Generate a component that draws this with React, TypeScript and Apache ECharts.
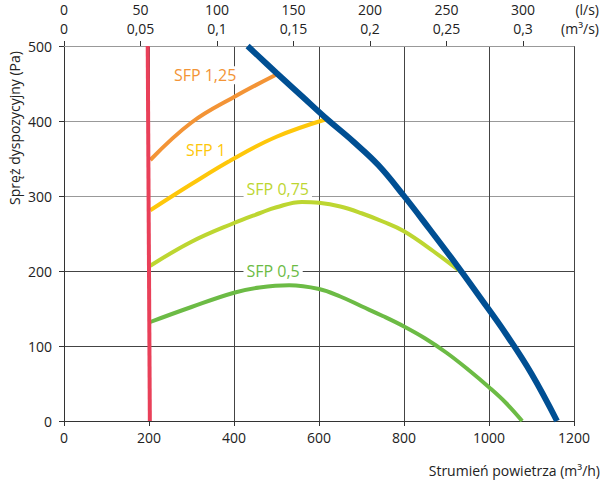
import React, { useEffect, useRef } from 'react';
import * as echarts from 'echarts';

const FONT = '"Open Sans", "Noto Sans", sans-serif';

// Airflow in m³/h, available pressure in Pa
const minFlowLine: [number, number][] = [[202, 0], [197, 500]];
const fanCurve: [number, number][] = [
  [432, 500], [500, 464], [560, 433], [620, 402], [680, 373], [740, 341],
  [800, 300], [860, 256], [920, 211], [980, 164], [1040, 116], [1100, 63], [1160, 0],
];
const sfp125: [number, number][] = [
  [203, 348], [300, 398], [400, 432], [500, 462],
];
const sfp1: [number, number][] = [
  [203, 281], [300, 316], [400, 350], [500, 379], [615, 402],
];
const sfp075: [number, number][] = [
  [203, 207], [300, 239], [400, 264], [460, 277], [500, 285], [560, 292],
  [600, 291], [650, 286], [700, 277], [750, 266], [800, 253], [870, 226], [940, 196],
];
const sfp05: [number, number][] = [
  [203, 132], [300, 152], [400, 171], [460, 178], [530, 181], [600, 176],
  [650, 166], [700, 153], [750, 140], [800, 126], [850, 110], [900, 91],
  [950, 69], [1000, 45], [1040, 24], [1078, 0],
];

const topTicksLs = [0, 50, 100, 150, 200, 250, 300];

const sfpLabel = (text: string, coord: [number, number], color: string) => ({
  markPoint: {
    symbol: 'circle',
    symbolSize: 0,
    silent: true,
    data: [{ coord }],
    label: {
      show: true,
      position: 'inside',
      formatter: text,
      color,
      fontFamily: FONT,
      fontSize: 16,
      backgroundColor: '#fff',
      padding: [1, 3],
    },
  },
});

const curve = (name: string, data: [number, number][], color: string, width: number, extra: object = {}) => ({
  name,
  type: 'line',
  data,
  smooth: 0.4,
  showSymbol: false,
  symbol: 'none',
  lineStyle: { color, width, cap: 'butt' },
  z: 3,
  ...extra,
});

export default function App() {
  const ref = useRef<HTMLDivElement>(null);

  useEffect(() => {
    const chart = echarts.init(ref.current!, null, { renderer: 'svg' });
    chart.setOption({
      animation: false,
      backgroundColor: '#fff',
      grid: { left: 64, right: 27, top: 46, bottom: 59 },
      xAxis: [
        {
          type: 'value',
          position: 'bottom',
          min: 0,
          max: 1200,
          interval: 200,
          axisLine: { lineStyle: { color: '#333', width: 1 } },
          axisTick: { show: true, length: 5, lineStyle: { color: '#333' } },
          axisLabel: {
            color: '#222',
            fontSize: 14,
            fontFamily: FONT,
            margin: 9,
            formatter: (v: number) => String(v),
          },
          splitLine: { show: true, lineStyle: { color: '#444', width: 1 } },
        },
        {
          type: 'value',
          position: 'top',
          min: 0,
          max: 1200 / 3.6,
          axisLine: { show: true, lineStyle: { color: '#999', width: 1 } },
          axisTick: { show: true, length: 5, customValues: topTicksLs, lineStyle: { color: '#333' } },
          axisLabel: {
            customValues: topTicksLs,
            color: '#222',
            fontSize: 14,
            fontFamily: FONT,
            lineHeight: 19,
            margin: 8,
            formatter: (v: number) => `${v}\n${String(v / 1000).replace('.', ',')}`,
          },
          splitLine: { show: false },
        },
      ],
      yAxis: {
        type: 'value',
        min: 0,
        max: 500,
        interval: 100,
        axisLine: { show: true, lineStyle: { color: '#333', width: 1 } },
        axisTick: { show: true, length: 5, lineStyle: { color: '#333' } },
        axisLabel: { color: '#222', fontSize: 14, fontFamily: FONT, margin: 12 },
        splitLine: {
          show: true,
          lineStyle: { color: ['#444', '#444', '#444', '#999', '#999', '#999'], width: 1 },
        },
      },
      graphic: [
        {
          type: 'text',
          x: 14,
          y: 128,
          rotation: Math.PI / 2,
          style: {
            text: 'Spręż dyspozycyjny (Pa)',
            fill: '#222',
            font: `14px ${FONT}`,
            textAlign: 'center',
            textVerticalAlign: 'middle',
          },
        },
        {
          type: 'text',
          x: 600,
          y: 470,
          style: {
            text: 'Strumień powietrza (m³/h)',
            fill: '#222',
            font: `14px ${FONT}`,
            textAlign: 'right',
            textVerticalAlign: 'middle',
          },
        },
        {
          type: 'text',
          x: 599,
          y: 9,
          style: { text: '(l/s)', fill: '#222', font: `14px ${FONT}`, textAlign: 'right', textVerticalAlign: 'middle' },
        },
        {
          type: 'text',
          x: 599,
          y: 28,
          style: { text: '(m³/s)', fill: '#222', font: `14px ${FONT}`, textAlign: 'right', textVerticalAlign: 'middle' },
        },
      ],
      series: [
        curve('SFP 0,5', sfp05, '#6cbb45', 4, sfpLabel('SFP 0,5', [492, 200], '#6cbb45')),
        curve('SFP 0,75', sfp075, '#bdd631', 4, sfpLabel('SFP 0,75', [503, 309], '#bdd631')),
        curve('SFP 1', sfp1, '#fec70a', 4, sfpLabel('SFP 1', [334, 361], '#fec70a')),
        curve('SFP 1,25', sfp125, '#f39436', 4, sfpLabel('SFP 1,25', [332, 461], '#f39436')),
        curve('Wentylator', fanCurve, '#004f93', 6, { z: 4 }),
        {
          name: 'Minimalny przepływ',
          type: 'line',
          data: minFlowLine,
          showSymbol: false,
          symbol: 'none',
          lineStyle: { color: '#e94059', width: 4 },
          z: 5,
        },
      ],
    });
    return () => chart.dispose();
  }, []);

  return (
    <div
      ref={ref}
      style={{ position: 'fixed', left: 0, top: 0, width: 601, height: 480 }}
    />
  );
}
